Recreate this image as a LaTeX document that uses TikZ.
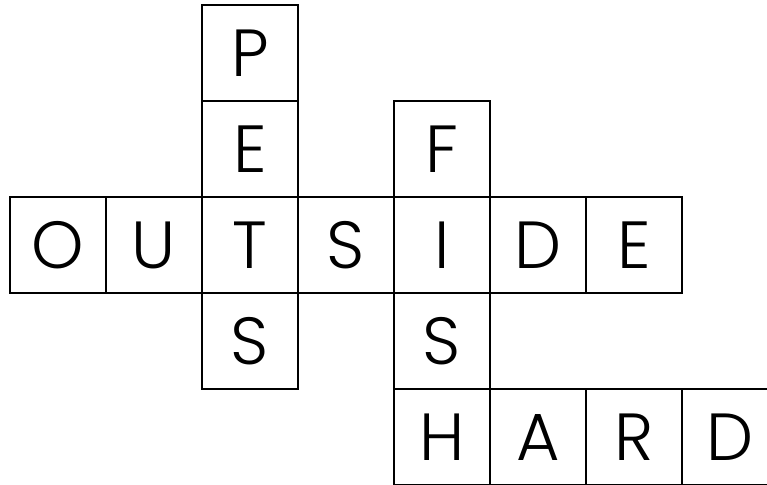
\documentclass[tikz,border=0pt]{standalone}
\usepackage{fontspec}
\newfontfamily\gridfont{Poppins Light}
\usepackage{tikz}
\usetikzlibrary{positioning}

\tikzset{
  cell/.style={draw, rectangle, line width=1.2pt, minimum width=72pt, minimum height=72pt,
    inner sep=0pt, font=\gridfont\fontsize{50}{50}\selectfont}
}

\begin{document}
\begin{tikzpicture}[node distance=72pt, auto]
  \useasboundingbox (-43.5pt,-180pt) rectangle (531.75pt,183.75pt);
  % across: OUTSIDE
  \node (out1) [cell] at (0,0) {O};
  \node (out2) [cell, right of=out1] {U};
  \node (out3) [cell, right of=out2] {T};
  \node (out4) [cell, right of=out3] {S};
  \node (out5) [cell, right of=out4] {I};
  \node (out6) [cell, right of=out5] {D};
  \node (out7) [cell, right of=out6] {E};
  % down: PETS
  \node (pets2) [cell, above of=out3] {E};
  \node (pets1) [cell, above of=pets2] {P};
  \node (pets4) [cell, below of=out3] {S};
  % down: FISH
  \node (fish1) [cell, above of=out5] {F};
  \node (fish3) [cell, below of=out5] {S};
  \node (hard1) [cell, below of=fish3] {H};
  % across: HARD
  \node (hard2) [cell, right of=hard1] {A};
  \node (hard3) [cell, right of=hard2] {R};
  \node (hard4) [cell, right of=hard3] {D};
\end{tikzpicture}
\end{document}
